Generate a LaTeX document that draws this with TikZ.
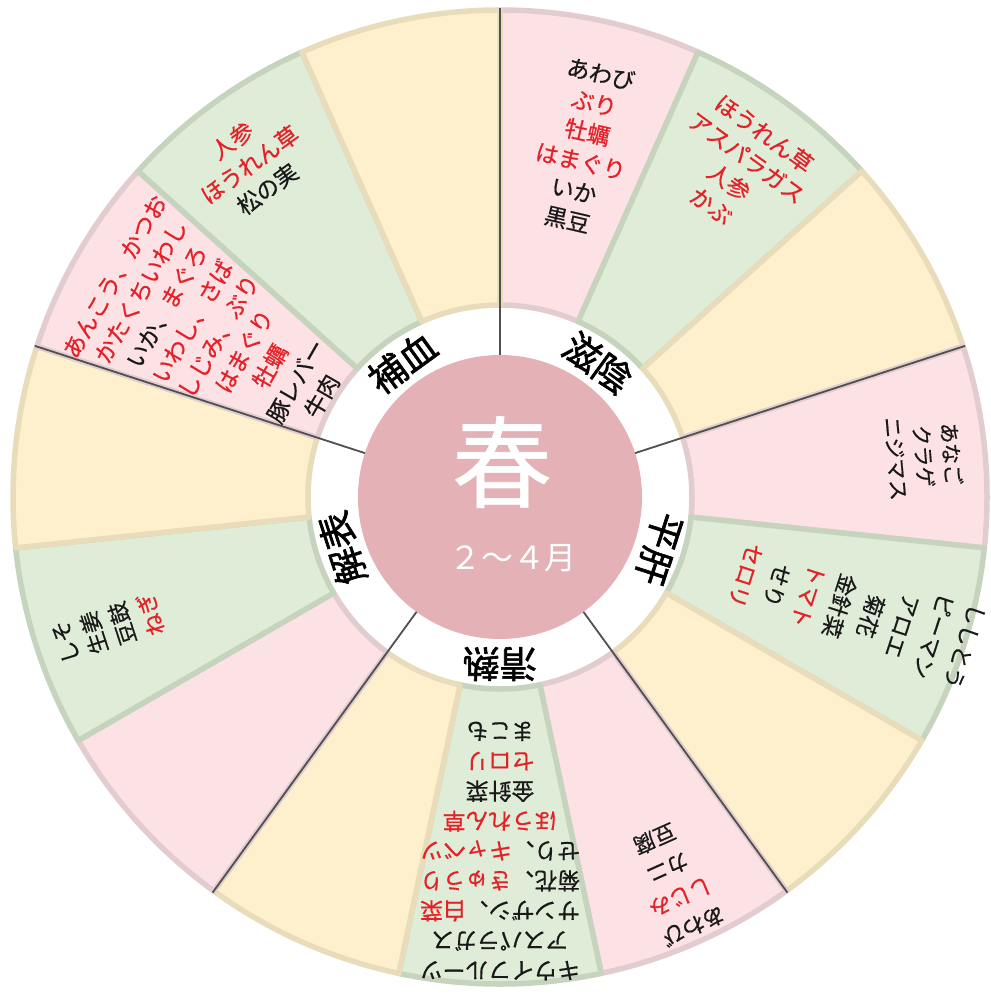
\documentclass[tikz,border=0pt]{standalone}
\usepackage{fontspec}
\setmainfont{Noto Sans CJK JP}
\newfontfamily\jpmed[FakeBold=0.6]{Noto Sans CJK JP}
\newfontfamily\jpheavy[FakeBold=1.6]{Noto Sans CJK JP}
\definecolor{pinkfill}{RGB}{253,226,229}
\definecolor{pinkline}{RGB}{226,204,207}
\definecolor{greenfill}{RGB}{223,236,215}
\definecolor{greenline}{RGB}{198,212,190}
\definecolor{yellowfill}{RGB}{254,240,205}
\definecolor{yellowline}{RGB}{232,220,186}
\definecolor{corepink}{RGB}{228,178,182}
\definecolor{itemred}{RGB}{226,34,40}
\definecolor{itemblack}{RGB}{25,25,25}
\definecolor{divline}{RGB}{80,80,80}
\newcommand\redtxt[1]{\textcolor{itemred}{#1}}
\newcommand\sector[4]{%
  \filldraw[fill=#3, draw=#4, line width=5.5bp, line join=round]
    (#1:192) -- (#1:487) arc[start angle=#1, end angle=#2, radius=487]
    -- (#2:192) arc[start angle=#2, end angle=#1, radius=192] -- cycle;}
\tikzset{
  item/.style={align=center, text=itemblack, inner sep=0pt,
    font=\jpmed\fontsize{23}{30}\selectfont},
  catlabel/.style={text=black, inner sep=0pt, font=\jpheavy\fontsize{37}{37}\selectfont},
  divider/.style={draw=divline, line width=1.8bp},
}
\begin{document}
\begin{tikzpicture}[x=1bp,y=1bp]
\useasboundingbox (0,0) rectangle (991,-994);
\fill[white] (0,0) rectangle (991,-994);
\begin{scope}[shift={(500,-497)}]
  % sectors: 15 wedges of 24 degrees
  \sector{90}{66}{pinkfill}{pinkline}
  \sector{66}{42}{greenfill}{greenline}
  \sector{42}{18}{yellowfill}{yellowline}
  \sector{18}{-6}{pinkfill}{pinkline}
  \sector{-6}{-30}{greenfill}{greenline}
  \sector{-30}{-54}{yellowfill}{yellowline}
  \sector{-54}{-78}{pinkfill}{pinkline}
  \sector{-78}{-102}{greenfill}{greenline}
  \sector{-102}{-126}{yellowfill}{yellowline}
  \sector{-126}{-150}{pinkfill}{pinkline}
  \sector{-150}{-174}{greenfill}{greenline}
  \sector{-174}{-198}{yellowfill}{yellowline}
  \sector{162}{138}{pinkfill}{pinkline}
  \sector{138}{114}{greenfill}{greenline}
  \sector{114}{90}{yellowfill}{yellowline}
  % centre disc
  \fill[corepink] (0,0) circle[radius=142];
  % dividers
  \foreach \a in {90,18,-54,-126,162}
    \draw[divider] (\a:142) -- (\a:489);
  % centre texts
  \node[text=white, inner sep=0pt, font=\jpmed\fontsize{100}{100}\selectfont] (spring) at (2,35) {春};
  \node[text=white, inner sep=0pt, font=\fontsize{32}{32}\selectfont] (months) at (13,-61) {２～４月};
  % category labels
  \node[catlabel, rotate=-36] (c1) at (54:166) {滋陰};
  \node[catlabel, rotate=-108] (c2) at (-18:167) {平肝};
  \node[catlabel, rotate=180] (c3) at (-90:167) {清熱};
  \node[catlabel, rotate=108] (c4) at (198:166) {解表};
  \node[catlabel, rotate=36] (c5) at (126:166) {補血};
  % food lists
  \node[item, rotate=-13] (t1) at (76.5:360)
    {あわび\\\redtxt{ぶり}\\\redtxt{牡蠣}\\\redtxt{はまぐり}\\いか\\黒豆};
  \node[item, rotate=-36, text=itemred] (t2) at (54:405)
    {ほうれん草\\アスパラガス\\人参\\かぶ};
  \node[item, rotate=-85, font=\jpmed\fontsize{21}{28}\selectfont] (t3) at (5.5:426)
    {あなご\\クラゲ\\ニジマス};
  \node[item, rotate=-108, font=\jpmed\fontsize{22}{33}\selectfont] (t4) at (-17.8:373)
    {ししとう\\ピーマン\\アロエ\\菊花\\金針菜\\\redtxt{トマト}\\せり\\\redtxt{セロリ}};
  \node[item, rotate=-156, font=\jpmed\fontsize{22}{32}\selectfont] (t5) at (-65.7:423)
    {あわび\\\redtxt{しじみ}\\カニ\\豆腐};
  \node[item, rotate=180] (t6) at (-90:354)
    {キウイフルーツ\\アスパラガス\\サンザシ、\redtxt{白菜}\\菊花、\redtxt{きゅうり}\\せり、\redtxt{キャベツ}\\\redtxt{ほうれん草}\\金針菜\\\redtxt{セロリ}\\まこも};
  \node[item, rotate=108, font=\jpmed\fontsize{22}{30}\selectfont] (t7) at (198.5:413)
    {しそ\\生姜\\豆鼓\\\redtxt{ねぎ}};
  \node[item, rotate=60] (t8) at (150.3:324)
    {\redtxt{あんこう、かつお}\\\redtxt{かたくちいわし}\\いか、\redtxt{まぐろ}\\\redtxt{いわし、さば}\\\redtxt{しじみ、ぶり}\\\redtxt{はまぐり}\\\redtxt{牡蠣}\\豚レバー\\牛肉};
  \node[item, rotate=36] (t9) at (127:416)
    {\redtxt{人参}\\\redtxt{ほうれん草}\\松の実};
\end{scope}
\end{tikzpicture}
\end{document}
